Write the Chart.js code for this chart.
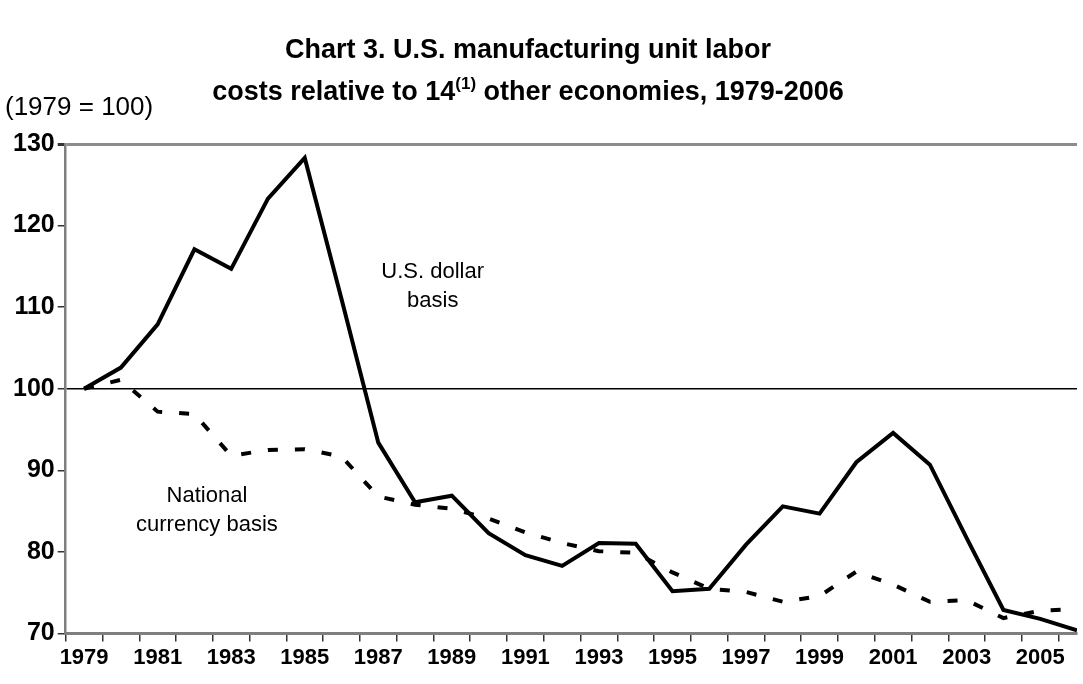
<!DOCTYPE html>
<html>
<head>
    <title>Chart 3</title>
    <script src="https://cdn.jsdelivr.net/npm/chart.js@4.4.1/dist/chart.umd.min.js"></script>
    <style>
        html, body { margin: 0; padding: 0; background: #fff; }
        #wrap { position: relative; width: 1083px; height: 684px; }
        #titulo {
            position: absolute; left: 0; top: 28px; width: 1056px;
            text-align: center; font: bold 27px "Liberation Sans", Arial, sans-serif;
            line-height: 42px; color: #000;
        }
        #titulo sup { font-size: 17px; line-height: 0; vertical-align: 11px; }
        #base {
            position: absolute; left: 5px; top: 91px;
            font: 26px "Liberation Sans", Arial, sans-serif; color: #000;
        }
    </style>
</head>
<body>
    <div id="wrap">
        <canvas id="grafico" width="1083" height="684"></canvas>
        <div id="titulo">Chart 3. U.S. manufacturing unit labor<br>costs relative to 14<sup>(1)</sup> other economies, 1979-2006</div>
        <div id="base">(1979 = 100)</div>
    </div>
    <script>
        // dados
        var anos = [1979, 1980, 1981, 1982, 1983, 1984, 1985, 1986, 1987, 1988, 1989, 1990, 1991, 1992,
            1993, 1994, 1995, 1996, 1997, 1998, 1999, 2000, 2001, 2002, 2003, 2004, 2005, 2006];
        var dolar = [100, 102.6, 107.9, 117.1, 114.7, 123.3, 128.3, 111.0, 93.4, 86.1, 86.9, 82.3, 79.6, 78.3,
            81.1, 81.0, 75.2, 75.5, 80.9, 85.6, 84.7, 91.0, 94.6, 90.7, 81.7, 72.9, 71.8, 70.4];
        var moedaNacional = [100, 101.1, 97.2, 96.9, 91.8, 92.5, 92.6, 91.7, 86.8, 85.8, 85.3, 84.1, 82.4, 81.1,
            80.1, 79.9, 77.5, 75.5, 75.1, 73.9, 74.6, 77.6, 76.0, 73.9, 74.1, 71.9, 72.8, 73.0];
        var ticksY = [70, 80, 90, 100, 110, 120, 130];

        // rótulos dentro do gráfico (posição em valores dos eixos)
        var rotulos = [
            { linhas: ['U.S. dollar', 'basis'], x: 1988.48, y: 112.6 },
            { linhas: ['National', 'currency basis'], x: 1982.34, y: 85.1 }
        ];

        var pluginRotulos = {
            id: 'rotulos',
            afterDatasetsDraw: function (chart) {
                var c = chart.ctx;
                c.save();
                c.font = '22px "Liberation Sans", Arial, sans-serif';
                c.fillStyle = '#000';
                c.textAlign = 'center';
                c.textBaseline = 'middle';
                rotulos.forEach(function (r) {
                    var px = chart.scales.x.getPixelForValue(r.x);
                    var py = chart.scales.y.getPixelForValue(r.y);
                    var alt = 29;
                    var ini = py - (r.linhas.length - 1) * alt / 2;
                    r.linhas.forEach(function (t, i) {
                        c.fillText(t, px, ini + i * alt);
                    });
                });
                c.restore();
            }
        };

        var ctx = document.getElementById('grafico').getContext('2d');
        var grafico = new Chart(ctx, {
            type: 'line',
            data: {
                labels: anos,
                datasets: [{
                    label: 'U.S. dollar basis',
                    data: dolar,
                    borderColor: '#000',
                    borderWidth: 4,
                    pointRadius: 0,
                    tension: 0,
                    fill: false
                }, {
                    label: 'National currency basis',
                    data: moedaNacional,
                    borderColor: '#000',
                    borderWidth: 4,
                    borderDash: [10, 17],
                    pointRadius: 0,
                    tension: 0,
                    fill: false
                }]
            },
            plugins: [pluginRotulos],
            options: {
                responsive: false,
                animation: false,
                layout: { padding: { top: 144, left: 10, right: 6, bottom: 10 } },
                plugins: {
                    legend: { display: false },
                    tooltip: { enabled: false }
                },
                scales: {
                    x: {
                        type: 'linear',
                        min: 1978.5,
                        max: 2006,
                        afterBuildTicks: function (scale) {
                            scale.ticks = anos.map(function (a) { return { value: a }; });
                        },
                        ticks: {
                            autoSkip: false,
                            maxRotation: 0,
                            padding: 3,
                            color: '#000',
                            font: { family: '"Liberation Sans", Arial, sans-serif', size: 22, weight: 'bold' },
                            callback: function (v) { return v % 2 === 1 ? String(v) : ''; }
                        },
                        grid: {
                            offset: true,
                            drawOnChartArea: false,
                            drawTicks: true,
                            tickLength: 8,
                            tickColor: '#333',
                            lineWidth: 1.5
                        },
                        border: { color: '#7f7f7f', width: 3 }
                    },
                    y: {
                        min: 70,
                        max: 130,
                        afterBuildTicks: function (scale) {
                            scale.ticks = ticksY.map(function (v) { return { value: v }; });
                        },
                        ticks: {
                            padding: 3,
                            color: '#000',
                            font: { family: '"Liberation Sans", Arial, sans-serif', size: 25, weight: 'bold' }
                        },
                        grid: {
                            drawTicks: true,
                            tickLength: 8,
                            tickColor: '#333',
                            color: function (c) {
                                if (!c.tick) return 'rgba(0,0,0,0)';
                                if (c.tick.value === 100) return '#000';
                                if (c.tick.value === 130) return '#8c8c8c';
                                return 'rgba(0,0,0,0)';
                            },
                            lineWidth: function (c) {
                                if (c.tick && c.tick.value === 130) return 3;
                                return 1.5;
                            }
                        },
                        border: { color: '#7f7f7f', width: 2.5 }
                    }
                }
            }
        });
    </script>
</body>
</html>
